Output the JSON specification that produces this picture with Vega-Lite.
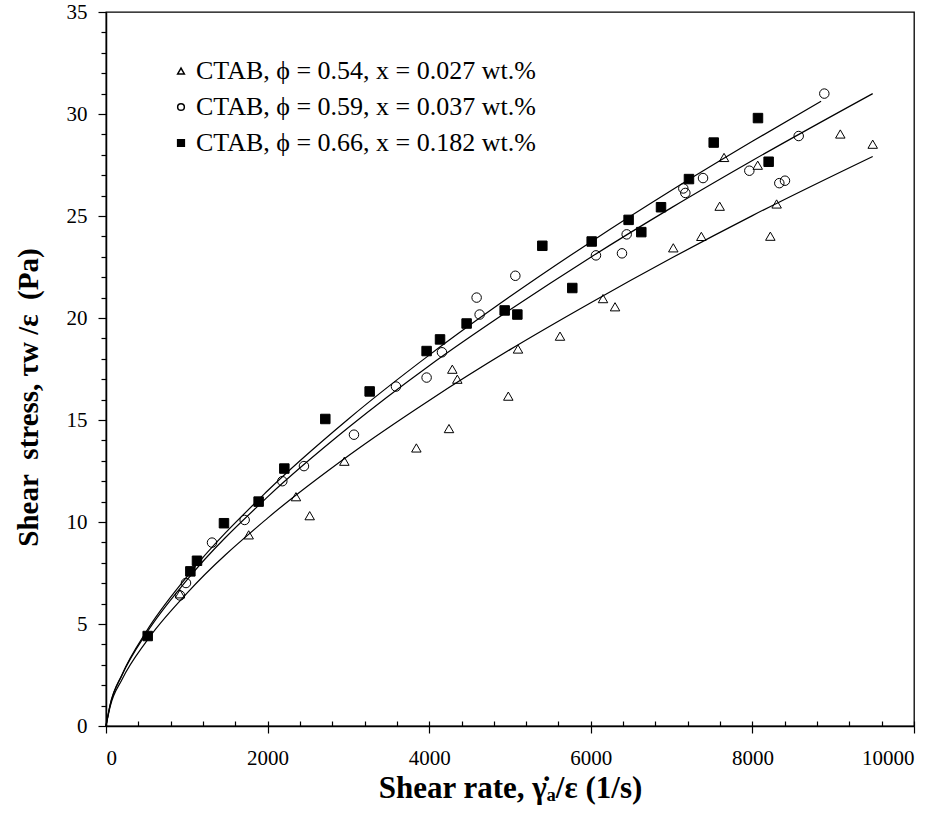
{
  "$schema": "https://vega.github.io/schema/vega-lite/v6.json",
  "width": 808,
  "height": 714,
  "autosize": {"type": "none"},
  "padding": {"left": 106, "top": 12, "right": 36, "bottom": 89},
  "background": "white",
  "config": {
    "view": {"stroke": "black", "strokeWidth": 1.3},
    "font": "Liberation Serif",
    "axis": {"domainColor": "black", "domainWidth": 1.5, "tickColor": "black", "tickWidth": 1.2, "labelColor": "black", "titleColor": "black", "grid": false, "labelFont": "Liberation Serif", "titleFont": "Liberation Serif"}
  },
  "datasets": {
    "pts": [
      {"s": "CTAB, ϕ = 0.54, x = 0.027 wt.%", "x": 916, "y": 6.48},
      {"s": "CTAB, ϕ = 0.54, x = 0.027 wt.%", "x": 1766, "y": 9.37},
      {"s": "CTAB, ϕ = 0.54, x = 0.027 wt.%", "x": 2351, "y": 11.24},
      {"s": "CTAB, ϕ = 0.54, x = 0.027 wt.%", "x": 2521, "y": 10.31},
      {"s": "CTAB, ϕ = 0.54, x = 0.027 wt.%", "x": 2950, "y": 12.98},
      {"s": "CTAB, ϕ = 0.54, x = 0.027 wt.%", "x": 3841, "y": 13.63},
      {"s": "CTAB, ϕ = 0.54, x = 0.027 wt.%", "x": 4245, "y": 14.58},
      {"s": "CTAB, ϕ = 0.54, x = 0.027 wt.%", "x": 4286, "y": 17.49},
      {"s": "CTAB, ϕ = 0.54, x = 0.027 wt.%", "x": 4348, "y": 17.0},
      {"s": "CTAB, ϕ = 0.54, x = 0.027 wt.%", "x": 4979, "y": 16.17},
      {"s": "CTAB, ϕ = 0.54, x = 0.027 wt.%", "x": 5099, "y": 18.48},
      {"s": "CTAB, ϕ = 0.54, x = 0.027 wt.%", "x": 5619, "y": 19.11},
      {"s": "CTAB, ϕ = 0.54, x = 0.027 wt.%", "x": 6151, "y": 20.95},
      {"s": "CTAB, ϕ = 0.54, x = 0.027 wt.%", "x": 6300, "y": 20.55},
      {"s": "CTAB, ϕ = 0.54, x = 0.027 wt.%", "x": 7021, "y": 23.44},
      {"s": "CTAB, ϕ = 0.54, x = 0.027 wt.%", "x": 7368, "y": 24.0},
      {"s": "CTAB, ϕ = 0.54, x = 0.027 wt.%", "x": 7595, "y": 25.48},
      {"s": "CTAB, ϕ = 0.54, x = 0.027 wt.%", "x": 7649, "y": 27.87},
      {"s": "CTAB, ϕ = 0.54, x = 0.027 wt.%", "x": 8066, "y": 27.49},
      {"s": "CTAB, ϕ = 0.54, x = 0.027 wt.%", "x": 8222, "y": 24.01},
      {"s": "CTAB, ϕ = 0.54, x = 0.027 wt.%", "x": 8300, "y": 25.59},
      {"s": "CTAB, ϕ = 0.54, x = 0.027 wt.%", "x": 9088, "y": 29.02},
      {"s": "CTAB, ϕ = 0.54, x = 0.027 wt.%", "x": 9489, "y": 28.52},
      {"s": "CTAB, ϕ = 0.59, x = 0.037 wt.%", "x": 916, "y": 6.4},
      {"s": "CTAB, ϕ = 0.59, x = 0.037 wt.%", "x": 990, "y": 7.01},
      {"s": "CTAB, ϕ = 0.59, x = 0.037 wt.%", "x": 1312, "y": 8.99},
      {"s": "CTAB, ϕ = 0.59, x = 0.037 wt.%", "x": 1716, "y": 10.1},
      {"s": "CTAB, ϕ = 0.59, x = 0.037 wt.%", "x": 2182, "y": 12.0},
      {"s": "CTAB, ϕ = 0.59, x = 0.037 wt.%", "x": 2450, "y": 12.74},
      {"s": "CTAB, ϕ = 0.59, x = 0.037 wt.%", "x": 3069, "y": 14.28},
      {"s": "CTAB, ϕ = 0.59, x = 0.037 wt.%", "x": 3589, "y": 16.64},
      {"s": "CTAB, ϕ = 0.59, x = 0.037 wt.%", "x": 3968, "y": 17.08},
      {"s": "CTAB, ϕ = 0.59, x = 0.037 wt.%", "x": 4158, "y": 18.32},
      {"s": "CTAB, ϕ = 0.59, x = 0.037 wt.%", "x": 4587, "y": 21.0},
      {"s": "CTAB, ϕ = 0.59, x = 0.037 wt.%", "x": 4624, "y": 20.17},
      {"s": "CTAB, ϕ = 0.59, x = 0.037 wt.%", "x": 5066, "y": 22.07},
      {"s": "CTAB, ϕ = 0.59, x = 0.037 wt.%", "x": 6064, "y": 23.07},
      {"s": "CTAB, ϕ = 0.59, x = 0.037 wt.%", "x": 6386, "y": 23.17},
      {"s": "CTAB, ϕ = 0.59, x = 0.037 wt.%", "x": 6444, "y": 24.1},
      {"s": "CTAB, ϕ = 0.59, x = 0.037 wt.%", "x": 7145, "y": 26.35},
      {"s": "CTAB, ϕ = 0.59, x = 0.037 wt.%", "x": 7170, "y": 26.13},
      {"s": "CTAB, ϕ = 0.59, x = 0.037 wt.%", "x": 7389, "y": 26.86},
      {"s": "CTAB, ϕ = 0.59, x = 0.037 wt.%", "x": 7962, "y": 27.22},
      {"s": "CTAB, ϕ = 0.59, x = 0.037 wt.%", "x": 8333, "y": 26.61},
      {"s": "CTAB, ϕ = 0.59, x = 0.037 wt.%", "x": 8403, "y": 26.73},
      {"s": "CTAB, ϕ = 0.59, x = 0.037 wt.%", "x": 8573, "y": 28.92},
      {"s": "CTAB, ϕ = 0.59, x = 0.037 wt.%", "x": 8890, "y": 31.0},
      {"s": "CTAB, ϕ = 0.66, x = 0.182 wt.%", "x": 516, "y": 4.41},
      {"s": "CTAB, ϕ = 0.66, x = 0.182 wt.%", "x": 1044, "y": 7.58},
      {"s": "CTAB, ϕ = 0.66, x = 0.182 wt.%", "x": 1126, "y": 8.1},
      {"s": "CTAB, ϕ = 0.66, x = 0.182 wt.%", "x": 1460, "y": 9.94},
      {"s": "CTAB, ϕ = 0.66, x = 0.182 wt.%", "x": 1889, "y": 11.0},
      {"s": "CTAB, ϕ = 0.66, x = 0.182 wt.%", "x": 2207, "y": 12.62},
      {"s": "CTAB, ϕ = 0.66, x = 0.182 wt.%", "x": 2714, "y": 15.05},
      {"s": "CTAB, ϕ = 0.66, x = 0.182 wt.%", "x": 3263, "y": 16.4},
      {"s": "CTAB, ϕ = 0.66, x = 0.182 wt.%", "x": 3968, "y": 18.38},
      {"s": "CTAB, ϕ = 0.66, x = 0.182 wt.%", "x": 4134, "y": 18.95},
      {"s": "CTAB, ϕ = 0.66, x = 0.182 wt.%", "x": 4463, "y": 19.73},
      {"s": "CTAB, ϕ = 0.66, x = 0.182 wt.%", "x": 4934, "y": 20.37},
      {"s": "CTAB, ϕ = 0.66, x = 0.182 wt.%", "x": 5091, "y": 20.17},
      {"s": "CTAB, ϕ = 0.66, x = 0.182 wt.%", "x": 5400, "y": 23.54},
      {"s": "CTAB, ϕ = 0.66, x = 0.182 wt.%", "x": 5771, "y": 21.47},
      {"s": "CTAB, ϕ = 0.66, x = 0.182 wt.%", "x": 6011, "y": 23.75},
      {"s": "CTAB, ϕ = 0.66, x = 0.182 wt.%", "x": 6468, "y": 24.81},
      {"s": "CTAB, ϕ = 0.66, x = 0.182 wt.%", "x": 6625, "y": 24.21},
      {"s": "CTAB, ϕ = 0.66, x = 0.182 wt.%", "x": 6869, "y": 25.43},
      {"s": "CTAB, ϕ = 0.66, x = 0.182 wt.%", "x": 7215, "y": 26.81},
      {"s": "CTAB, ϕ = 0.66, x = 0.182 wt.%", "x": 7521, "y": 28.6},
      {"s": "CTAB, ϕ = 0.66, x = 0.182 wt.%", "x": 8069, "y": 29.8},
      {"s": "CTAB, ϕ = 0.66, x = 0.182 wt.%", "x": 8201, "y": 27.66}
    ],
    "fits": [
      {"s": "a", "x": 0, "y": 0}, {"s": "a", "x": 50, "y": 0.93}, {"s": "a", "x": 200, "y": 2.29}, {"s": "a", "x": 500, "y": 4.15}, {"s": "a", "x": 1000, "y": 6.5}, {"s": "a", "x": 2000, "y": 10.19}, {"s": "a", "x": 3000, "y": 13.25}, {"s": "a", "x": 4000, "y": 15.96}, {"s": "a", "x": 5000, "y": 18.45}, {"s": "a", "x": 6000, "y": 20.75}, {"s": "a", "x": 7000, "y": 22.94}, {"s": "a", "x": 8000, "y": 25.02}, {"s": "a", "x": 9489, "y": 27.92},
      {"s": "b", "x": 0, "y": 0}, {"s": "b", "x": 50, "y": 1.01}, {"s": "b", "x": 200, "y": 2.5}, {"s": "b", "x": 500, "y": 4.55}, {"s": "b", "x": 1000, "y": 7.15}, {"s": "b", "x": 2000, "y": 11.23}, {"s": "b", "x": 3000, "y": 14.63}, {"s": "b", "x": 4000, "y": 17.66}, {"s": "b", "x": 5000, "y": 20.4}, {"s": "b", "x": 6000, "y": 22.98}, {"s": "b", "x": 7000, "y": 25.41}, {"s": "b", "x": 8000, "y": 27.72}, {"s": "b", "x": 9489, "y": 31.0},
      {"s": "c", "x": 0, "y": 0}, {"s": "c", "x": 50, "y": 1.02}, {"s": "c", "x": 200, "y": 2.54}, {"s": "c", "x": 500, "y": 4.64}, {"s": "c", "x": 1000, "y": 7.31}, {"s": "c", "x": 2000, "y": 11.53}, {"s": "c", "x": 3000, "y": 15.05}, {"s": "c", "x": 4000, "y": 18.18}, {"s": "c", "x": 5000, "y": 21.05}, {"s": "c", "x": 6000, "y": 23.73}, {"s": "c", "x": 7000, "y": 26.26}, {"s": "c", "x": 8000, "y": 28.66}, {"s": "c", "x": 8850, "y": 30.63}
    ]
  },
  "layer": [
    {
      "data": {"name": "fits"},
      "mark": {"type": "line", "color": "black", "strokeWidth": 1.2, "interpolate": "monotone"},
      "encoding": {
        "x": {"field": "x", "type": "quantitative", "scale": {"domain": [0, 10000], "nice": false},
          "axis": {"orient": "bottom", "values": [0,400,800,1200,1600,2000,2400,2800,3200,3600,4000,4400,4800,5200,5600,6000,6400,6800,7200,7600,8000,8400,8800,9200,9600,10000], "labels": false, "domain": false, "tickSize": -5, "title": null}},
        "y": {"field": "y", "type": "quantitative", "scale": {"domain": [0, 35], "nice": false},
          "axis": {"orient": "left", "values": [1,2,3,4,6,7,8,9,11,12,13,14,16,17,18,19,21,22,23,24,26,27,28,29,31,32,33,34], "labels": false, "domain": false, "tickSize": 5, "title": null}},
        "detail": {"field": "s"}
      }
    },
    {
      "data": {"name": "pts"},
      "mark": {"type": "point", "strokeWidth": 1, "size": 90, "opacity": 1},
      "encoding": {
        "x": {"field": "x", "type": "quantitative", "scale": {"domain": [0, 10000], "nice": false},
          "axis": {"orient": "bottom", "values": [0, 2000, 4000, 6000, 8000, 10000], "format": "d", "tickSize": 7, "labelFont": "Liberation Serif", "labelFontSize": 21, "labelPadding": 14, "title": "Shear rate, γ̇ₐ/ε (1/s)", "titleFont": "Liberation Serif", "titleFontSize": 31, "titleFontWeight": "bold", "titlePadding": 5}},
        "y": {"field": "y", "type": "quantitative", "scale": {"domain": [0, 35], "nice": false},
          "axis": {"orient": "left", "values": [0, 5, 10, 15, 20, 25, 30, 35], "format": "d", "tickSize": 8, "labelFont": "Liberation Serif", "labelFontSize": 21, "labelPadding": 11, "title": "Shear\u00a0\u00a0stress, τw /ε\u00a0\u00a0(Pa)", "titleFont": "Liberation Serif", "titleFontSize": 29, "titleFontWeight": "bold", "titleX": -78, "titleY": 385, "titleAlign": "center", "titleBaseline": "middle", "titleAngle": -90}},
        "stroke": {"value": "black"},
        "shape": {"field": "s", "type": "nominal",
          "scale": {"domain": ["CTAB, ϕ = 0.54, x = 0.027 wt.%", "CTAB, ϕ = 0.59, x = 0.037 wt.%", "CTAB, ϕ = 0.66, x = 0.182 wt.%"], "range": ["triangle-up", "circle", "square"]},
          "legend": {"title": null, "orient": "none", "legendX": 62, "legendY": 46, "labelFontSize": 26, "labelFont": "Liberation Serif", "labelColor": "black", "labelOffset": 2, "symbolSize": 45, "rowPadding": 10, "labelLimit": 600,
            "encode": {"symbols": {"update": {"stroke": {"value": "black"}, "strokeWidth": {"value": 1}, "fill": {"signal": "indexof(datum.value, '0.182') >= 0 ? 'black' : 'transparent'"}}}}}},
        "fill": {"field": "s", "type": "nominal",
          "scale": {"domain": ["CTAB, ϕ = 0.54, x = 0.027 wt.%", "CTAB, ϕ = 0.59, x = 0.037 wt.%", "CTAB, ϕ = 0.66, x = 0.182 wt.%"], "range": ["transparent", "transparent", "black"]},
          "legend": null}
      }
    }
  ],
  "resolve": {"axis": {"x": "independent", "y": "independent"}}
}
